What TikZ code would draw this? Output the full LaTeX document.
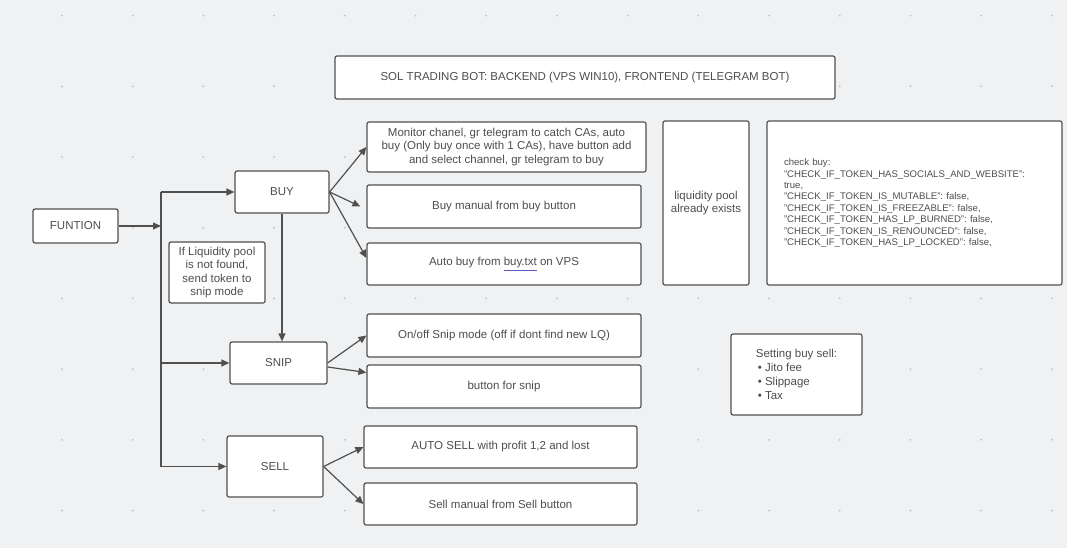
\documentclass[tikz,border=0pt]{standalone}
\usepackage{fontspec}
\setmainfont{Liberation Sans}
\usetikzlibrary{arrows.meta}
\frenchspacing

\definecolor{bgcol}{RGB}{240,241,243}
\definecolor{dotcol}{RGB}{190,192,196}
\definecolor{linecol}{RGB}{80,80,80}
\definecolor{textcol}{RGB}{78,78,78}
\definecolor{spellcol}{RGB}{90,90,200}

\begin{document}
\begin{tikzpicture}[
x=1pt, y=-1pt,
box/.style={draw=linecol, line width=1.2pt, fill=white, rounded corners=2pt,
  text=textcol, align=center, inner sep=2pt, font=\fontsize{11.5}{13.5}\selectfont},
smallbox/.style={box, font=\fontsize{9.6}{11.4}\selectfont},
link/.style={draw=linecol, line width=1.2pt},
arrow/.style={link, -{Triangle[length=8pt,width=7pt]}}]

% background and grid
\useasboundingbox[fill=bgcol] (0,0) rectangle (1067,548);
\foreach \i in {0,...,14}
  \foreach \j in {0,...,7}
    \fill[dotcol] (62+70.7*\i, 15.6+70.7*\j) circle (1pt);

% title
\node[box, minimum width=500pt, minimum height=43pt] (title) at (585,77.5)
  {SOL TRADING BOT: BACKEND (VPS WIN10), FRONTEND (TELEGRAM BOT)};

% main functions
\node[box, minimum width=85pt, minimum height=34pt] (fun) at (75.5,226) {FUNTION};
\node[box, minimum width=94pt, minimum height=42pt] (buy) at (282,192) {BUY};
\node[box, minimum width=97pt, minimum height=42pt] (snip) at (278.5,363) {SNIP};
\node[box, minimum width=96pt, minimum height=61pt] (sell) at (275,466.5) {SELL};
\node[box, minimum width=96pt, minimum height=61pt] (note) at (217,272.5)
  {If Liquidity pool\\is not found,\\send token to\\snip mode};

% buy options
\node[box, minimum width=279pt, minimum height=50pt] (monitor) at (506.5,147)
  {Monitor chanel, gr telegram to catch CAs, auto\\buy (Only buy once with 1 CAs), have button add\\and select channel, gr telegram to buy};
\node[box, minimum width=274pt, minimum height=43pt] (manual) at (504,206.5)
  {Buy manual from buy button};
\node[box, minimum width=274pt, minimum height=42pt] (autobuy) at (504,264)
  {Auto buy from \textcolor{spellcol}{\underline{\textcolor{textcol}{buy.txt}}} on VPS};

% snip options
\node[box, minimum width=274pt, minimum height=43pt] (onoff) at (504,335.5)
  {On/off Snip mode (off if dont find new LQ)};
\node[box, minimum width=274pt, minimum height=43pt] (snipbtn) at (504,386.5)
  {button for snip};

% sell options
\node[box, minimum width=273pt, minimum height=42pt] (autosell) at (500.5,447)
  {AUTO SELL with profit 1,2 and lost};
\node[box, minimum width=273pt, minimum height=42pt] (sellman) at (500.5,504)
  {Sell manual from Sell button};

% checks and settings
\node[box, minimum width=86pt, minimum height=164pt] (lqpool) at (706,203)
  {liquidity pool\\already exists};
\node[smallbox, minimum width=295pt, minimum height=164pt, inner xsep=17pt,
  text width=261pt, align=left] (check) at (914.5,203)
  {check buy:\\
   "CHECK\_IF\_TOKEN\_HAS\_SOCIALS\_AND\_WEBSITE":\\
   true,\\
   "CHECK\_IF\_TOKEN\_IS\_MUTABLE": false,\\
   "CHECK\_IF\_TOKEN\_IS\_FREEZABLE": false,\\
   "CHECK\_IF\_TOKEN\_HAS\_LP\_BURNED": false,\\
   "CHECK\_IF\_TOKEN\_IS\_RENOUNCED": false,\\
   "CHECK\_IF\_TOKEN\_HAS\_LP\_LOCKED": false,};
\node[box, minimum width=131pt, minimum height=81pt, align=left,
  font=\fontsize{11.5}{14}\selectfont] (setting) at (796.5,374.5)
  {Setting buy sell:\\
   \,\textbullet\ Jito fee\\
   \,\textbullet\ Slippage\\
   \,\textbullet\ Tax};

% bus from FUNTION
\coordinate (bus) at (161,0);
\draw[link] (bus |- buy) -- (bus |- sell);
\draw[arrow] (fun.east) -- (bus |- fun);
\draw[arrow] (bus |- buy) -- (buy.west);
\draw[arrow] (bus |- snip) -- (snip.west);
\draw[arrow] (bus |- sell) -- (sell.west);
\draw[arrow] (buy.south) -- (buy.south |- snip.north);

% branches
\draw[arrow] (buy.east) -- (monitor.west);
\draw[arrow] (buy.east) -- ([xshift=-6pt]manual.west);
\draw[arrow] (buy.east) -- ([yshift=6pt]autobuy.west);
\draw[arrow] (snip.east) -- (onoff.west);
\draw[arrow] ([yshift=-4pt]snip.east) -- ([yshift=14pt]snipbtn.west);
\draw[arrow] (sell.east) -- (autosell.west);
\draw[arrow] (sell.east) -- (sellman.west);

\end{tikzpicture}
\end{document}
